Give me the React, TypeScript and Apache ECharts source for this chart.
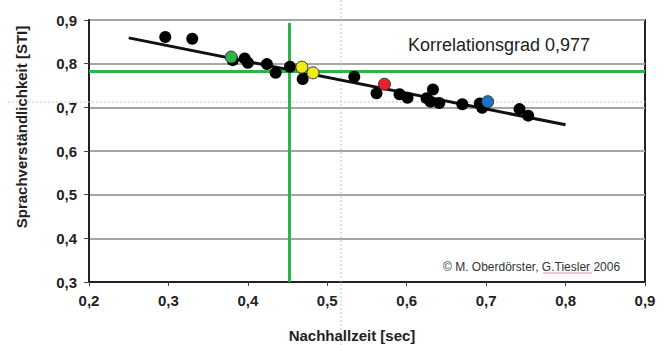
import React, { useEffect, useRef } from "react";
import * as echarts from "echarts";

const xTicks = [0.2, 0.3, 0.4, 0.5, 0.6, 0.7, 0.8, 0.9];
const yTicks = [0.3, 0.4, 0.5, 0.6, 0.7, 0.8, 0.9];

const blackPoints: [number, number][] = [
  [0.296, 0.861], [0.330, 0.857], [0.381, 0.808], [0.396, 0.812], [0.400, 0.802],
  [0.424, 0.799], [0.435, 0.779], [0.453, 0.793], [0.469, 0.765], [0.534, 0.770],
  [0.562, 0.732], [0.591, 0.730], [0.601, 0.722], [0.625, 0.721], [0.633, 0.741],
  [0.630, 0.713], [0.641, 0.710], [0.670, 0.707], [0.692, 0.709], [0.695, 0.699],
  [0.742, 0.696], [0.753, 0.681],
];
const greenPoint: [number, number][] = [[0.379, 0.815]];
const yellowPoints: [number, number][] = [[0.468, 0.792], [0.482, 0.779]];
const redPoint: [number, number][] = [[0.572, 0.753]];
const bluePoint: [number, number][] = [[0.702, 0.713]];

const regressionLine: [number, number][] = [[0.25, 0.859], [0.80, 0.66]];
const markX = 0.452;
const markXTop = 0.893;
const markY = 0.783;

const xTitle = "Nachhallzeit [sec]";
const yTitle = "Sprachverständlichkeit [STI]";
const corrText = "Korrelationsgrad 0,977";
const copyText = "© M. Oberdörster, G.Tiesler 2006";

const fmt = (v: number) => v.toFixed(1).replace(".", ",");

export default function App() {
  const ref = useRef<HTMLDivElement>(null);
  useEffect(() => {
    if (!ref.current) return;
    const chart = echarts.init(ref.current, null, { renderer: "svg" });
    const font = "'Liberation Sans', Arial, sans-serif";
    const dot = (data: [number, number][], color: string, border: boolean, z: number) => ({
      type: "scatter",
      data,
      symbolSize: 12,
      z,
      itemStyle: {
        color,
        borderColor: border ? "#333" : color,
        borderWidth: border ? 1 : 0,
        opacity: 1,
      },
    });
    chart.setOption({
      animation: false,
      backgroundColor: "#fff",
      grid: {
        left: 89,
        right: 23,
        top: 20,
        bottom: 63,
        show: true,
        borderColor: "#222",
        borderWidth: 2,
        backgroundColor: "transparent",
      },
      xAxis: {
        type: "value",
        min: xTicks[0],
        max: xTicks[xTicks.length - 1],
        interval: 0.1,
        axisLine: { show: true, lineStyle: { color: "#222", width: 2 } },
        axisTick: { show: true, length: 4, lineStyle: { color: "#444" } },
        axisLabel: {
          formatter: fmt,
          fontFamily: font,
          fontWeight: "bold",
          fontSize: 15,
          color: "#222",
          margin: 11,
        },
        splitLine: { show: false },
      },
      yAxis: {
        type: "value",
        min: yTicks[0],
        max: yTicks[yTicks.length - 1],
        interval: 0.1,
        axisLine: { show: true, lineStyle: { color: "#222", width: 2 } },
        axisTick: { show: true, length: 5, lineStyle: { color: "#444" } },
        axisLabel: {
          formatter: fmt,
          fontFamily: font,
          fontWeight: "bold",
          fontSize: 15,
          color: "#222",
          margin: 12,
        },
        splitLine: { show: true, lineStyle: { color: "#a6a6a6", width: 2 } },
      },
      graphic: [
        {
          type: "line",
          shape: { x1: 341, y1: 0, x2: 341, y2: 345 },
          style: { stroke: "#c8c8c8", lineWidth: 1, lineDash: [2, 2] },
          z: 1,
        },
        {
          type: "line",
          shape: { x1: 8, y1: 102, x2: 645, y2: 102 },
          style: { stroke: "#c8c8c8", lineWidth: 1, lineDash: [2, 2] },
          z: 1,
        },
        {
          type: "text",
          x: 352,
          y: 335,
          style: {
            text: xTitle,
            fontFamily: font,
            fontWeight: "bold",
            fontSize: 15,
            fill: "#222",
            textAlign: "center",
            textVerticalAlign: "middle",
          },
          z: 10,
        },
        {
          type: "text",
          x: 21,
          y: 127,
          rotation: Math.PI / 2,
          style: {
            text: yTitle,
            fontFamily: font,
            fontWeight: "bold",
            fontSize: 15,
            fill: "#222",
            textAlign: "center",
            textVerticalAlign: "middle",
          },
          z: 10,
        },
        {
          type: "text",
          x: 408,
          y: 45,
          style: {
            text: corrText,
            fontFamily: font,
            fontSize: 18,
            fill: "#222",
            textVerticalAlign: "middle",
          },
          z: 10,
        },
        {
          type: "text",
          x: 443,
          y: 267,
          style: {
            text: copyText,
            fontFamily: font,
            fontSize: 12,
            fill: "#333",
            textVerticalAlign: "middle",
          },
          z: 10,
        },
        {
          type: "line",
          shape: { x1: 543, y1: 273, x2: 592, y2: 273 },
          style: { stroke: "#e88a9a", lineWidth: 1 },
          z: 10,
        },
      ],
      series: [
        {
          type: "line",
          data: [],
          z: 3,
          markLine: {
            symbol: "none",
            silent: true,
            label: { show: false },
            lineStyle: { color: "#2fb150", width: 3, type: "solid" },
            data: [
              [{ coord: [markX, markXTop] }, { coord: [markX, yTicks[0]] }],
              [{ coord: [xTicks[0], markY] }, { coord: [xTicks[xTicks.length - 1], markY] }],
            ],
          },
        },
        {
          type: "line",
          data: regressionLine,
          symbol: "none",
          z: 4,
          lineStyle: { color: "#111", width: 3 },
        },
        dot(blackPoints, "#000", false, 5),
        dot(greenPoint, "#2db34a", true, 6),
        dot(yellowPoints, "#f3ea1c", true, 6),
        dot(redPoint, "#e8202a", true, 6),
        dot(bluePoint, "#1f72c2", true, 6),
      ],
    });
    return () => chart.dispose();
  }, []);
  return (
    <div
      ref={ref}
      style={{ position: "absolute", left: 0, top: 0, width: 668, height: 345 }}
    />
  );
}
